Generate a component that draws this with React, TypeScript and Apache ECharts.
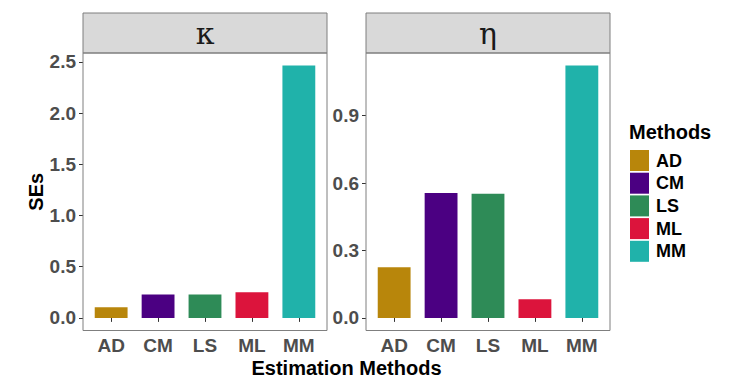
import React, { useEffect, useRef } from "react";
import * as echarts from "echarts";

const methods = ["AD", "CM", "LS", "ML", "MM"];
const colors = ["#B8860B", "#4B0082", "#2E8B57", "#DC143C", "#20B2AA"];
const kappaSE = [0.105, 0.229, 0.228, 0.251, 2.464];
const etaSE = [0.225, 0.556, 0.553, 0.083, 1.123];
const kappaTicks = [0, 0.5, 1.0, 1.5, 2.0, 2.5];
const etaTicks = [0, 0.3, 0.6, 0.9];
const panelTitles = ["κ", "η"];

const FONT = "'Liberation Sans', Arial, sans-serif";

export default function App() {
  const ref = useRef<HTMLDivElement>(null);
  useEffect(() => {
    document.body.style.margin = "0";
    const chart = echarts.init(ref.current!, null, { renderer: "svg" });

    const panelLeft = [83, 366];
    const panelW = 244;
    const panelTop = 53;
    const panelH = 277.5;
    const unit = panelW / 5.2;
    const inset = (panelW - 5 * unit) / 2;

    const datasets = [kappaSE, etaSE];
    const tickSets = [kappaTicks, etaTicks];

    const grids = panelLeft.map((l) => ({
      left: l + inset,
      top: panelTop,
      width: 5 * unit,
      height: panelH,
    }));

    const xAxes = panelLeft.map((_, i) => ({
      type: "category",
      gridIndex: i,
      data: methods,
      axisLine: { show: false },
      axisTick: { show: true, alignWithLabel: true, length: 4, lineStyle: { color: "#333" } },
      axisLabel: { color: "#4d4d4d", fontSize: 19, fontWeight: "bold", fontFamily: FONT, margin: 5 },
      splitLine: { show: false },
    }));

    const yAxes = panelLeft.map((_, i) => {
      const mx = Math.max(...datasets[i]);
      return {
        type: "value",
        gridIndex: i,
        min: -0.05 * mx,
        max: 1.05 * mx,
        offset: inset,
        name: i === 0 ? "SEs" : "",
        nameLocation: "middle",
        nameRotate: 90,
        nameGap: 36,
        nameTextStyle: { color: "#000", fontSize: 20, fontWeight: "bold", fontFamily: FONT },
        axisLine: { show: false },
        axisTick: { show: true, length: 4, lineStyle: { color: "#333" }, customValues: tickSets[i] },
        axisLabel: {
          color: "#4d4d4d",
          fontSize: 19,
          fontWeight: "bold",
          fontFamily: FONT,
          margin: 7,
          customValues: tickSets[i],
          formatter: (v: number) => v.toFixed(1),
        },
        splitLine: { show: false },
      };
    });

    const series: any[] = [];
    datasets.forEach((vals, p) => {
      methods.forEach((m, j) => {
        series.push({
          type: "bar",
          name: m,
          xAxisIndex: p,
          yAxisIndex: p,
          stack: "p" + p,
          barWidth: "70%",
          itemStyle: { color: colors[j] },
          data: methods.map((_, k) => (k === j ? vals[k] : "-")),
        });
      });
    });

    const graphics: any[] = [];
    panelLeft.forEach((l, i) => {
      graphics.push({
        type: "rect",
        shape: { x: l, y: 13, width: panelW, height: 40 },
        style: { fill: "#d9d9d9", stroke: "#7f7f7f", lineWidth: 1 },
        z: 10,
      });
      graphics.push({
        type: "text",
        x: l + panelW / 2,
        y: 33,
        style: {
          text: panelTitles[i],
          fontSize: 30,
          fontFamily: "'DejaVu Serif', serif",
          fill: "#1a1a1a",
          align: "center",
          verticalAlign: "middle",
        },
        z: 11,
      });
      graphics.push({
        type: "rect",
        shape: { x: l, y: panelTop, width: panelW, height: panelH },
        style: { fill: "none", stroke: "#7f7f7f", lineWidth: 1 },
        z: 10,
      });
    });
    graphics.push({
      type: "text",
      x: (panelLeft[0] + panelLeft[1] + panelW) / 2,
      y: 368,
      style: {
        text: "Estimation Methods",
        fontSize: 20,
        fontWeight: "bold",
        fontFamily: FONT,
        fill: "#000",
        align: "center",
        verticalAlign: "middle",
      },
    });
    graphics.push({
      type: "text",
      x: 629,
      y: 132,
      style: {
        text: "Methods",
        fontSize: 20,
        fontWeight: "bold",
        fontFamily: FONT,
        fill: "#000",
        align: "left",
        verticalAlign: "middle",
      },
    });

    chart.setOption({
      animation: false,
      backgroundColor: "#ffffff",
      grid: grids,
      xAxis: xAxes,
      yAxis: yAxes,
      series,
      graphic: graphics,
      legend: {
        data: methods,
        orient: "vertical",
        left: 630,
        top: 150,
        padding: 0,
        icon: "rect",
        itemWidth: 19,
        itemHeight: 21,
        itemGap: 1.7,
        itemStyle: { borderWidth: 0 },
        textStyle: { color: "#000", fontSize: 18, fontWeight: "bold", fontFamily: FONT, padding: [0, 0, 0, 2] },
        selectedMode: false,
      },
    });
    return () => chart.dispose();
  }, []);
  return <div ref={ref} style={{ width: 741, height: 390 }} />;
}
